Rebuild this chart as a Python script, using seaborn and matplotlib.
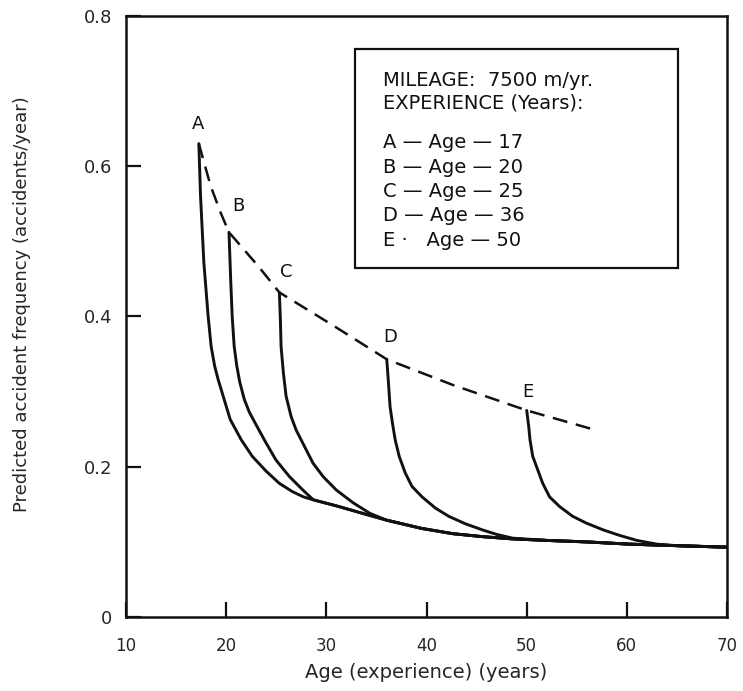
import pandas as pd
import matplotlib.pyplot as plt
import matplotlib.patches as patches
import seaborn as sns

sns.set_style("white")
plt.rcParams["font.family"] = ["DejaVu Sans"]
plt.rcParams["font.size"] = 12

PRETO = "#111111"

# curvas (idade, frequencia)
idade_a = [17.27, 17.44, 17.77, 18.2, 18.5, 18.85, 19.2, 19.7, 20.4, 21.5, 22.6, 24.0, 25.3, 26.6, 27.7]
freq_a = [0.630, 0.560, 0.472, 0.400, 0.360, 0.334, 0.316, 0.294, 0.263, 0.236, 0.214, 0.194, 0.178, 0.167, 0.160]

idade_b = [20.28, 20.45, 20.6, 20.8, 21.05, 21.35, 21.8, 22.3, 22.9, 23.97, 24.97, 26.31, 27.66, 28.7]
freq_b = [0.512, 0.449, 0.400, 0.360, 0.335, 0.313, 0.290, 0.273, 0.258, 0.232, 0.209, 0.187, 0.169, 0.156]

idade_c = [25.31, 25.41, 25.48, 25.71, 25.98, 26.48, 26.98, 27.82, 28.66, 29.67, 31.0, 32.68, 34.35, 36.0]
freq_c = [0.432, 0.396, 0.360, 0.325, 0.294, 0.267, 0.249, 0.227, 0.205, 0.187, 0.169, 0.152, 0.138, 0.129]

idade_d = [36.03, 36.2, 36.36, 36.6, 36.87, 37.27, 37.87, 38.54, 39.55, 40.89, 42.23, 43.9, 45.58, 47.0, 48.6]
freq_d = [0.343, 0.312, 0.280, 0.258, 0.236, 0.214, 0.192, 0.174, 0.160, 0.145, 0.134, 0.124, 0.116, 0.110, 0.105]

idade_e = [50.0, 50.2, 50.33, 50.6, 51.1, 51.6, 52.28, 53.29, 54.6, 55.96, 57.64, 59.2, 61.0, 63.0]
freq_e = [0.275, 0.254, 0.236, 0.214, 0.196, 0.178, 0.160, 0.147, 0.134, 0.125, 0.116, 0.109, 0.102, 0.097]

# envelope comum (todas as curvas terminam nele)
idade_env = [27.7, 28.7, 31.0, 34.4, 36.0, 39.5, 42.6, 45.6, 48.6, 52.0, 56.0, 60.3, 65.0, 70.0]
freq_env = [0.160, 0.156, 0.148, 0.135, 0.129, 0.118, 0.111, 0.107, 0.104, 0.102, 0.100, 0.097, 0.095, 0.093]

# linha tracejada pelos pontos iniciais
idade_trac = [17.27, 18.44, 19.45, 20.28, 23.2, 25.31, 30.8, 36.03, 42.6, 50.0, 57.1]
freq_trac = [0.630, 0.574, 0.538, 0.512, 0.467, 0.432, 0.387, 0.343, 0.309, 0.275, 0.248]

letras = ["A", "B", "C", "D", "E"]
letra_x = [17.24, 21.26, 26.0, 36.4, 50.1]
letra_y = [0.656, 0.547, 0.459, 0.373, 0.300]

legenda = ["A \u2014 Age \u2014 17", "B \u2014 Age \u2014 20", "C \u2014 Age \u2014 25",
           "D \u2014 Age \u2014 36", "E \u00b7   Age \u2014 50"]

curvas = []
for nome, xs, ys in [("A", idade_a, freq_a), ("B", idade_b, freq_b), ("C", idade_c, freq_c),
                     ("D", idade_d, freq_d), ("E", idade_e, freq_e)]:
    cauda = [(x, y) for x, y in zip(idade_env, freq_env) if x > xs[-1]]
    tx = list(xs) + [c[0] for c in cauda]
    ty = list(ys) + [c[1] for c in cauda]
    curvas.append(pd.DataFrame({"idade": tx, "freq": ty, "curva": nome}))
df = pd.concat(curvas, ignore_index=True)
df_trac = pd.DataFrame({"idade": idade_trac, "freq": freq_trac})

fig = plt.figure(figsize=(7.43, 6.91), dpi=100)
ax = fig.add_axes([0.1696, 0.107, 0.8089, 0.870])

for nome in letras:
    sns.lineplot(data=df[df["curva"] == nome], x="idade", y="freq", ax=ax,
                 color=PRETO, linewidth=2.1, sort=False, estimator=None)

sns.lineplot(data=df_trac, x="idade", y="freq", ax=ax, color=PRETO,
             linewidth=1.8, sort=False, estimator=None)
ax.lines[-1].set_dashes([6, 3.5])

for l, x, y in zip(letras, letra_x, letra_y):
    ax.text(x, y, l, ha="center", va="center", fontsize=13, color=PRETO)

# caixa de legenda
ax.add_patch(patches.Rectangle((0.381, 0.58), 0.537, 0.365, transform=ax.transAxes,
                               fill=False, edgecolor=PRETO, linewidth=1.6))
ax.text(0.428, 0.893, "MILEAGE:  7500 m/yr.", transform=ax.transAxes,
        ha="left", va="center", fontsize=14, color=PRETO)
ax.text(0.428, 0.855, "EXPERIENCE (Years):", transform=ax.transAxes,
        ha="left", va="center", fontsize=14, color=PRETO)
for i, t in enumerate(legenda):
    ax.text(0.428, 0.789 - i * 0.0405, t, transform=ax.transAxes,
            ha="left", va="center", fontsize=14, color=PRETO)

ax.set_xlim(10, 70)
ax.set_ylim(0, 0.8)
ax.set_xticks([10, 20, 30, 40, 50, 60, 70])
ax.set_yticks([0, 0.2, 0.4, 0.6, 0.8])
ax.set_yticklabels(["0", "0.2", "0.4", "0.6", "0.8"])
ax.tick_params(bottom=True, left=True, direction="in", length=11, width=1.6, color=PRETO)
ax.tick_params(axis="y", labelsize=13, pad=10)
ax.tick_params(axis="x", labelsize=12, pad=14)
for s in ax.spines.values():
    s.set_linewidth(1.8)
    s.set_color(PRETO)

ax.set_xlabel("Age (experience) (years)", fontsize=14, labelpad=6)
ax.set_ylabel("Predicted accident frequency (accidents/year)", fontsize=13)
ax.yaxis.set_label_coords(-0.158, 0.52)

fig.savefig("out.png", dpi=100)
